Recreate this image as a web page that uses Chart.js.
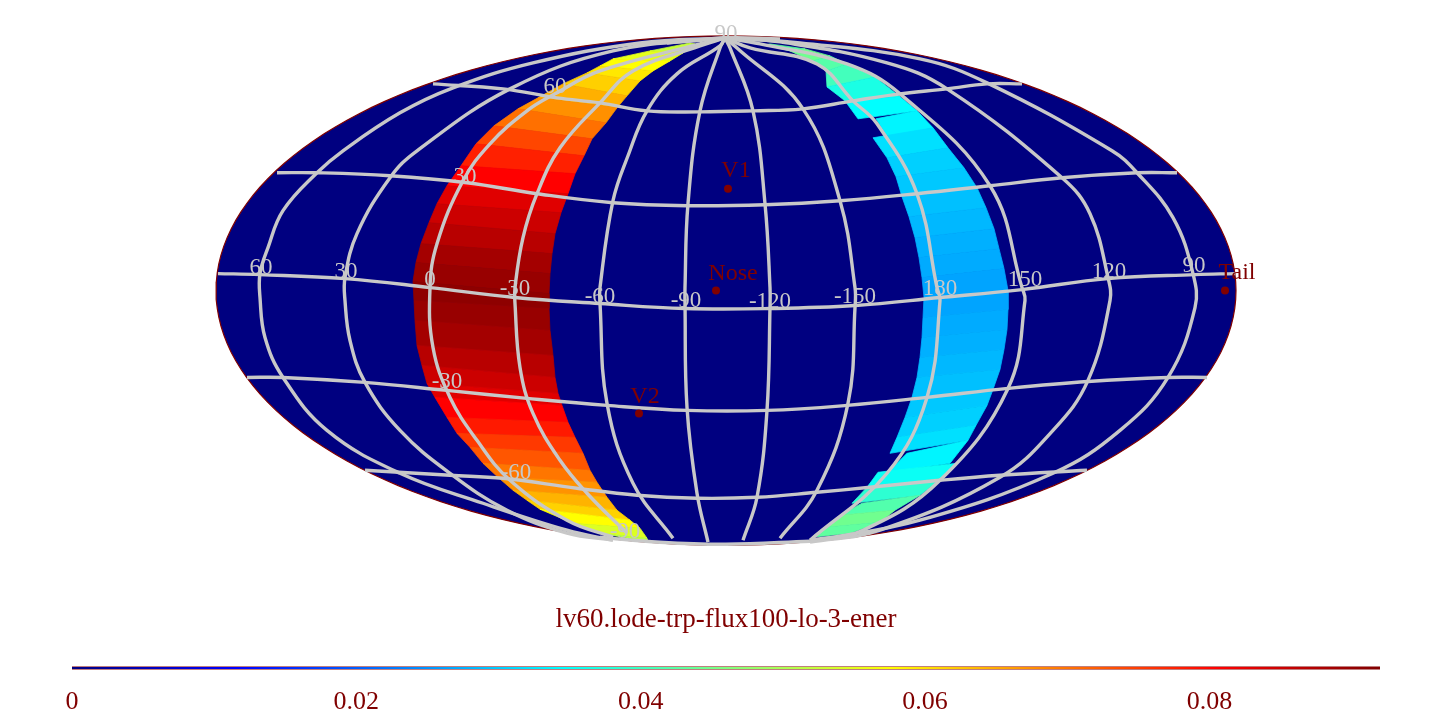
<!DOCTYPE html>
<html><head><meta charset="utf-8">
<style>html,body{margin:0;padding:0;background:#fff}canvas{display:block}</style>
<script src="https://cdn.jsdelivr.net/npm/chart.js@4"></script>
</head><body><canvas id="c" width="1452" height="728"></canvas>
<script>
// map-plane coordinates: ellipse spans x -510..510, y -255..255
const chartTitle = "lv60.lode-trp-flux100-lo-3-ener";
const colorTicks = [0, 0.02, 0.04, 0.06, 0.08];
const colorMax = 0.092;

const meridian60 = [[-1,253],[-86,248],[-193,228],[-273,203],[-326,178],[-383,140],[-409,118],[-443,80],[-458,43],[-466,17],[-466,-7],[-461,-47],[-443,-87],[-399,-140],[-326,-183],[-243,-213],[-159,-240],[-113,-250]];
const meridian30 = [[-1,253],[-113,240],[-216,202],[-309,140],[-336,113],[-369,57],[-381,13],[-381,-10],[-376,-50],[-361,-92],[-326,-140],[-276,-183],[-219,-220],[-159,-243],[-113,-250]];
const meridian0 = [[-1,253],[-26,247],[-126,220],[-171,197],[-199,180],[-236,147],[-263,110],[-289,47],[-296,3],[-293,-57],[-276,-107],[-249,-150],[-216,-190],[-159,-230],[-113,-247]];
const meridianM30 = [[-1,253],[-26,245],[-93,220],[-126,188],[-166,143],[-189,97],[-203,53],[-211,3],[-211,-13],[-206,-77],[-193,-123],[-166,-170],[-139,-203],[-99,-243]];
const meridianM60 = [[-1,253],[-6,245],[-49,217],[-79,180],[-98,135],[-113,90],[-126,3],[-126,-13],[-119,-113],[-93,-193],[-53,-248]];
const meridianM90 = [[-1,253],[-6,243],[-26,180],[-38,87],[-41,3],[-41,-13],[-39,-117],[-29,-203],[-18,-252]];
const meridianM120 = [[-1,253],[4,243],[27,180],[39,87],[44,3],[44,-17],[41,-120],[31,-207],[17,-250]];
const meridianM150 = [[-1,253],[11,243],[77,182],[114,90],[129,3],[129,-17],[122,-113],[91,-200],[54,-248]];
const meridian180 = [[-1,253],[24,243],[91,227],[127,190],[151,167],[191,97],[211,3],[214,-10],[201,-107],[161,-183],[84,-250]];
const meridian150 = [[-1,253],[34,247],[121,227],[174,197],[264,105],[296,3],[299,-10],[282,-98],[214,-190],[137,-240],[84,-250]];
const meridian120 = [[-1,253],[54,249],[161,228],[221,202],[336,113],[364,77],[382,13],[384,-10],[362,-90],[327,-140],[274,-187],[154,-240],[84,-252]];
const meridian90 = [[-1,253],[74,248],[194,232],[261,208],[386,140],[411,118],[447,73],[467,17],[469,-17],[442,-87],[394,-140],[327,-183],[194,-230],[91,-250]];

const parallel60 = [[-293,207],[-223,202],[-169,193],[-126,188],[-79,180],[-26,179],[27,180],[77,182],[127,190],[174,197],[221,202],[261,207],[296,207]];
const parallel30 = [[-449,118],[-409,118],[-336,115],[-259,108],[-189,97],[-113,88],[-39,85],[39,86],[114,90],[191,97],[264,105],[336,113],[411,118],[451,118]];
const parallel0 = [[-508,17],[-466,16],[-381,12],[-296,3],[-211,-7],[-126,-13],[-41,-18],[44,-18],[129,-15],[214,-7],[296,1],[382,12],[469,16],[509,17]];
const parallelM30 = [[-479,-87],[-443,-87],[-361,-92],[-279,-100],[-199,-108],[-119,-115],[-39,-120],[41,-120],[121,-115],[201,-107],[282,-98],[362,-91],[442,-87],[481,-87]];
const parallelM60 = [[-361,-180],[-276,-185],[-223,-188],[-149,-198],[-89,-205],[-29,-208],[31,-207],[91,-202],[144,-197],[214,-190],[274,-185],[361,-180]];
const poleSouth = [[-126,-247],[-66,-252],[0,-254],[84,-251]];
const poleNorth = [[-59,248],[-1,253],[54,252]];

// left band: per row boundary [leftX,leftY,rightX,rightY]
const bandA = [[-36,248,-31,247],[-76,240,-43,238],[-113,232,-56,230],[-126,225,-73,220],[-139,218,-86,210],[-163,207,-99,195],[-188,193,-109,183],[-208,182,-120,168],[-232,165,-134,152],[-250,147,-142,135],[-265,125,-151,117],[-279,105,-158,97],[-289,87,-165,78],[-297,68,-171,57],[-305,47,-174,37],[-310,28,-176,17],[-313,9,-177,-3],[-312,-10,-177,-18],[-311,-30,-176,-40],[-309,-55,-173,-65],[-304,-75,-171,-87],[-299,-93,-168,-103],[-291,-107,-164,-115],[-279,-127,-158,-132],[-269,-143,-151,-147],[-256,-157,-143,-163],[-243,-173,-136,-180],[-228,-187,-129,-192],[-213,-200,-119,-207],[-199,-210,-109,-220],[-186,-219,-96,-230],[-153,-233,-86,-238],[-126,-243,-79,-248],[-86,-250,-78,-251]];
const bandAValues = [0.0524,0.0552,0.0575,0.0596,0.0617,0.0646,0.0675,0.0704,0.0742,0.0776,0.0805,0.0833,0.0851,0.0869,0.0887,0.0898,0.0907,0.0898,0.0887,0.0869,0.0851,0.0833,0.0805,0.0782,0.0754,0.0727,0.0699,0.0672,0.0644,0.0616,0.0575,0.0543,0.0515];
// right band
const bandB = [[39,246,44,247],[64,240,79,242],[86,230,104,235],[100,220,121,227],[101,204,149,214],[119,190,174,194],[132,172,191,180],[150,172,191,180],[162,153,207,163],[147,153,207,163],[161,133,222,143],[170,114,238,123],[176,94,251,103],[183,74,260,83],[189,53,268,62],[193,33,273,42],[196,13,278,22],[198,-7,282,0],[197,-27,282,-19],[196,-47,281,-39],[194,-67,278,-59],[191,-87,274,-79],[186,-107,267,-99],[179,-127,261,-115],[171,-147,250,-135],[164,-163,242,-150],[181,-163,242,-150],[162,-182,224,-173],[152,-182,231,-173],[141,-197,216,-188],[126,-213,194,-205],[136,-213,194,-205],[114,-225,169,-220],[99,-237,154,-232],[86,-247,124,-243]];
const bandBValues = [0.0432,0.0446,0.0423,0.0405,0.0368,0.0345,0.0345,0.0336,0.0336,0.0317,0.0303,0.0295,0.0288,0.0281,0.0274,0.0269,0.0263,0.0263,0.0269,0.0274,0.0281,0.0288,0.0295,0.0303,0.0317,0.0317,0.0336,0.0336,0.0354,0.0386,0.0386,0.0419,0.0446,0.0432];

const gridLabels = ["60","30","0","-30","-60","-90","-120","-150","180","150","120","90","90","60","30","-30","-60","-90"];
const gridLabelX = [-465,-380,-296,-211,-126,-40,44,129,214,299,383,468,0,-171,-261,-279,-210,-101];
const gridLabelY = [23,19,11,2,-6,-10,-11,-6,2,11,19,25,257,204,114,-92,-183,-242];

const markerNames = ["V1","Nose","Tail","V2"];
const markerX = [2,-10,499,-87];
const markerY = [102,0,0,-123];
const markerLabelX = [10,7,511,-81];
const markerLabelY = [120,17,18,-106];

const RED = "#800000", GREY = "#c8c8c8", NAVY = "#000080";
const jetStops = [[0,[0,0,128]],[0.125,[0,0,255]],[0.375,[0,255,255]],[0.625,[255,255,0]],[0.875,[255,0,0]],[1,[128,0,0]]];
function jet(v){
  const t = Math.min(1, Math.max(0, v / colorMax));
  for (let i = 1; i < jetStops.length; i++) {
    if (t <= jetStops[i][0]) {
      const [t0,c0] = jetStops[i-1], [t1,c1] = jetStops[i];
      const f = (t - t0) / (t1 - t0);
      return "rgb(" + c0.map((c,k) => Math.round(c + (c1[k]-c) * f)).join(",") + ")";
    }
  }
  return "rgb(128,0,0)";
}

const datasets = [];
const add = d => { datasets.push(Object.assign({xAxisID:"x", yAxisID:"y", showLine:true, pointRadius:0, tension:0, order:5000-datasets.length}, d)); };

// map disc
const disc = [];
for (let a = 0; a <= 360; a += 2) disc.push({x:510*Math.cos(a*Math.PI/180), y:255*Math.sin(a*Math.PI/180)});
add({data:disc, borderColor:RED, borderWidth:1.2, backgroundColor:NAVY, fill:"shape"});

// flux bands
function addBand(rows, values){
  values.forEach((v,i) => {
    const a = rows[i], b = rows[i+1];
    if (a[1] === b[1]) return;
    const col = jet(v);
    add({data:[{x:a[0],y:a[1]},{x:a[2],y:a[3]},{x:b[2],y:b[3]},{x:b[0],y:b[1]},{x:a[0],y:a[1]}], borderColor:col, borderWidth:0.8, backgroundColor:col, fill:"shape"});
  });
}
addBand(bandA, bandAValues);
addBand(bandB, bandBValues);

// graticule
[meridian60,meridian30,meridian0,meridianM30,meridianM60,meridianM90,meridianM120,meridianM150,meridian180,meridian150,meridian120,meridian90,
 parallel60,parallel30,parallel0,parallelM30,parallelM60,poleSouth,poleNorth].forEach(line => {
  add({data:line.map(p => ({x:p[0],y:p[1]})), borderColor:GREY, borderWidth:3.4, backgroundColor:GREY, fill:false, tension:0.4, borderJoinStyle:"round"});
});

// markers
add({data:markerX.map((x,i) => ({x, y:markerY[i]})), showLine:false, pointRadius:4, pointBackgroundColor:RED, pointBorderColor:RED, pointBorderWidth:0});

// colour bar, on its own value axis
const barEnds = [0, colorMax];
add({xAxisID:"cb", clip:false, data:barEnds.map(x => ({x, y:-378})), borderColor:RED, borderWidth:3.2, fill:false});
add({xAxisID:"cb", clip:false, data:barEnds.map(x => ({x, y:-378})), fill:false, borderWidth:1.8,
  borderColor(ctx){
    const ch = ctx.chart, area = ch.chartArea;
    if (!area) return RED;
    const g = ch.ctx.createLinearGradient(area.left,0,area.right,0);
    jetStops.forEach(s => g.addColorStop(s[0], "rgb(" + s[1].join(",") + ")"));
    return g;
  }});

const textPlugin = {
  id:"mapText",
  afterDatasetsDraw(chart){
    const c = chart.ctx, sx = chart.scales.x, sy = chart.scales.y;
    c.save();
    c.textAlign = "center"; c.textBaseline = "middle";
    c.font = "23px 'Liberation Serif'"; c.fillStyle = GREY;
    gridLabels.forEach((t,i) => c.fillText(t, sx.getPixelForValue(gridLabelX[i]), sy.getPixelForValue(gridLabelY[i])));
    c.font = "24px 'Liberation Serif'"; c.fillStyle = RED;
    markerNames.forEach((t,i) => c.fillText(t, sx.getPixelForValue(markerLabelX[i]), sy.getPixelForValue(markerLabelY[i])));
    c.font = "27px 'Liberation Serif'";
    c.fillText(chartTitle, sx.getPixelForValue(0), sy.getPixelForValue(-330));
    c.restore();
  }
};

new Chart(document.getElementById("c"), {
  type:"scatter",
  data:{datasets},
  plugins:[textPlugin],
  options:{
    responsive:false, animation:false, devicePixelRatio:1,
    layout:{padding:{left:72,right:72,top:0,bottom:0}},
    plugins:{legend:{display:false}, tooltip:{enabled:false}, title:{display:false}},
    events:[],
    scales:{
      x:{type:"linear", display:false, min:-654, max:654},
      y:{type:"linear", display:false, min:-378, max:287},
      cb:{type:"linear", position:"bottom", min:0, max:colorMax,
        border:{display:false}, grid:{display:false, drawTicks:false},
        afterFit(s){ s.height = 60; },
        afterBuildTicks(s){ s.ticks = colorTicks.map(value => ({value})); },
        ticks:{color:RED, padding:19, maxRotation:0, autoSkip:false, font:{family:"'Liberation Serif'", size:26}, callback:v => String(v)}
      }
    }
  }
});
</script></body></html>
